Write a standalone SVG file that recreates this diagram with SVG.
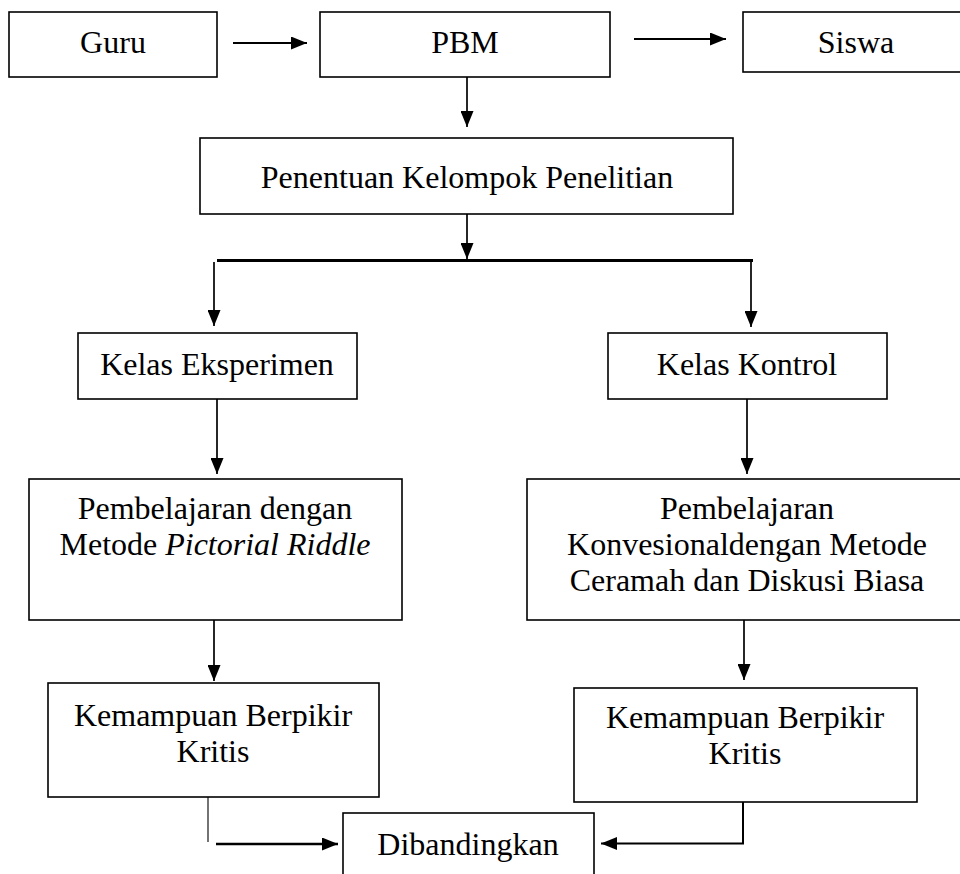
<svg xmlns="http://www.w3.org/2000/svg" width="960" height="874" viewBox="0 0 960 874" font-family="'Liberation Serif', 'Times New Roman', Tinos, serif">
<defs>
<marker id="ah" markerWidth="16" markerHeight="13" refX="16" refY="6.5" orient="auto" markerUnits="userSpaceOnUse"><path d="M0,0 L16,6.5 L0,13 z" fill="#000"/></marker>
</defs>
<style>
.box{fill:#fff;stroke:#000;stroke-width:1.6}
.t{font-family:'Liberation Serif','Times New Roman',Tinos,serif;font-size:32px;fill:#000;text-anchor:middle}
.c{fill:none;stroke:#000;stroke-width:1.7}
.a{marker-end:url(#ah)}
</style>
<rect width="960" height="874" fill="#fff"/>
<g id="connectors">
<line class="c a" x1="233" y1="43" x2="307" y2="43" style="stroke-width:2.2"/>
<line class="c a" x1="634" y1="39" x2="726" y2="39" style="stroke-width:2.2"/>
<line class="c a" x1="467" y1="77" x2="467" y2="127"/>
<line class="c a" x1="467" y1="214" x2="467" y2="259"/>
<line class="c" x1="217" y1="260.5" x2="753" y2="260.5" style="stroke-width:3.2"/>
<line class="c a" x1="214" y1="262" x2="214" y2="326"/>
<line class="c a" x1="751" y1="259" x2="751" y2="327"/>
<line class="c a" x1="217" y1="399" x2="217" y2="474"/>
<line class="c a" x1="747" y1="399" x2="747" y2="474"/>
<line class="c a" x1="214" y1="620" x2="214" y2="681"/>
<line class="c a" x1="744" y1="620" x2="744" y2="680"/>
<line class="c" x1="208" y1="797" x2="208" y2="842" style="stroke-width:1.1"/>
<line class="c a" x1="216" y1="844" x2="338" y2="844" style="stroke-width:2.4"/>
<polyline class="c a" points="743,798 743,843.5 601,843.5" style="stroke-width:2"/>
</g>
<g id="guru"><rect class="box" x="9" y="12" width="208" height="65"/><text class="t" font-family="Liberation Serif" x="113" y="53">Guru</text></g>
<g id="pbm"><rect class="box" x="320" y="12" width="290" height="65"/><text class="t" font-family="Liberation Serif" x="465" y="53">PBM</text></g>
<g id="siswa"><rect class="box" x="743" y="12" width="226" height="60"/><text class="t" font-family="Liberation Serif" x="856" y="53">Siswa</text></g>
<g id="penentuan"><rect class="box" x="200" y="138" width="533" height="76"/><text class="t" font-family="Liberation Serif" x="467" y="188">Penentuan Kelompok Penelitian</text></g>
<g id="kelas-eksperimen"><rect class="box" x="78" y="333" width="279" height="66"/><text class="t" font-family="Liberation Serif" x="217" y="375">Kelas Eksperimen</text></g>
<g id="kelas-kontrol"><rect class="box" x="608" y="333" width="279" height="66"/><text class="t" font-family="Liberation Serif" x="747" y="375">Kelas Kontrol</text></g>
<g id="pembelajaran-pictorial"><rect class="box" x="29" y="479" width="373" height="141"/><text class="t" font-family="Liberation Serif" x="215" y="519">Pembelajaran dengan</text><text class="t" font-family="Liberation Serif" x="215" y="555">Metode <tspan font-style="italic">Pictorial Riddle</tspan></text></g>
<g id="pembelajaran-konvensional"><rect class="box" x="527" y="479" width="440" height="141"/><text class="t" font-family="Liberation Serif" x="747" y="519">Pembelajaran</text><text class="t" font-family="Liberation Serif" x="747" y="555">Konvesionaldengan Metode</text><text class="t" font-family="Liberation Serif" x="747" y="591">Ceramah dan Diskusi Biasa</text></g>
<g id="kemampuan-eksperimen"><rect class="box" x="48" y="683" width="331" height="114"/><text class="t" font-family="Liberation Serif" x="213" y="726">Kemampuan Berpikir</text><text class="t" font-family="Liberation Serif" x="213" y="762">Kritis</text></g>
<g id="kemampuan-kontrol"><rect class="box" x="574" y="688" width="343" height="114"/><text class="t" font-family="Liberation Serif" x="745" y="728">Kemampuan Berpikir</text><text class="t" font-family="Liberation Serif" x="745" y="764">Kritis</text></g>
<g id="dibandingkan"><rect class="box" x="343" y="813" width="251" height="70"/><text class="t" font-family="Liberation Serif" x="468" y="855">Dibandingkan</text></g>
</svg>
